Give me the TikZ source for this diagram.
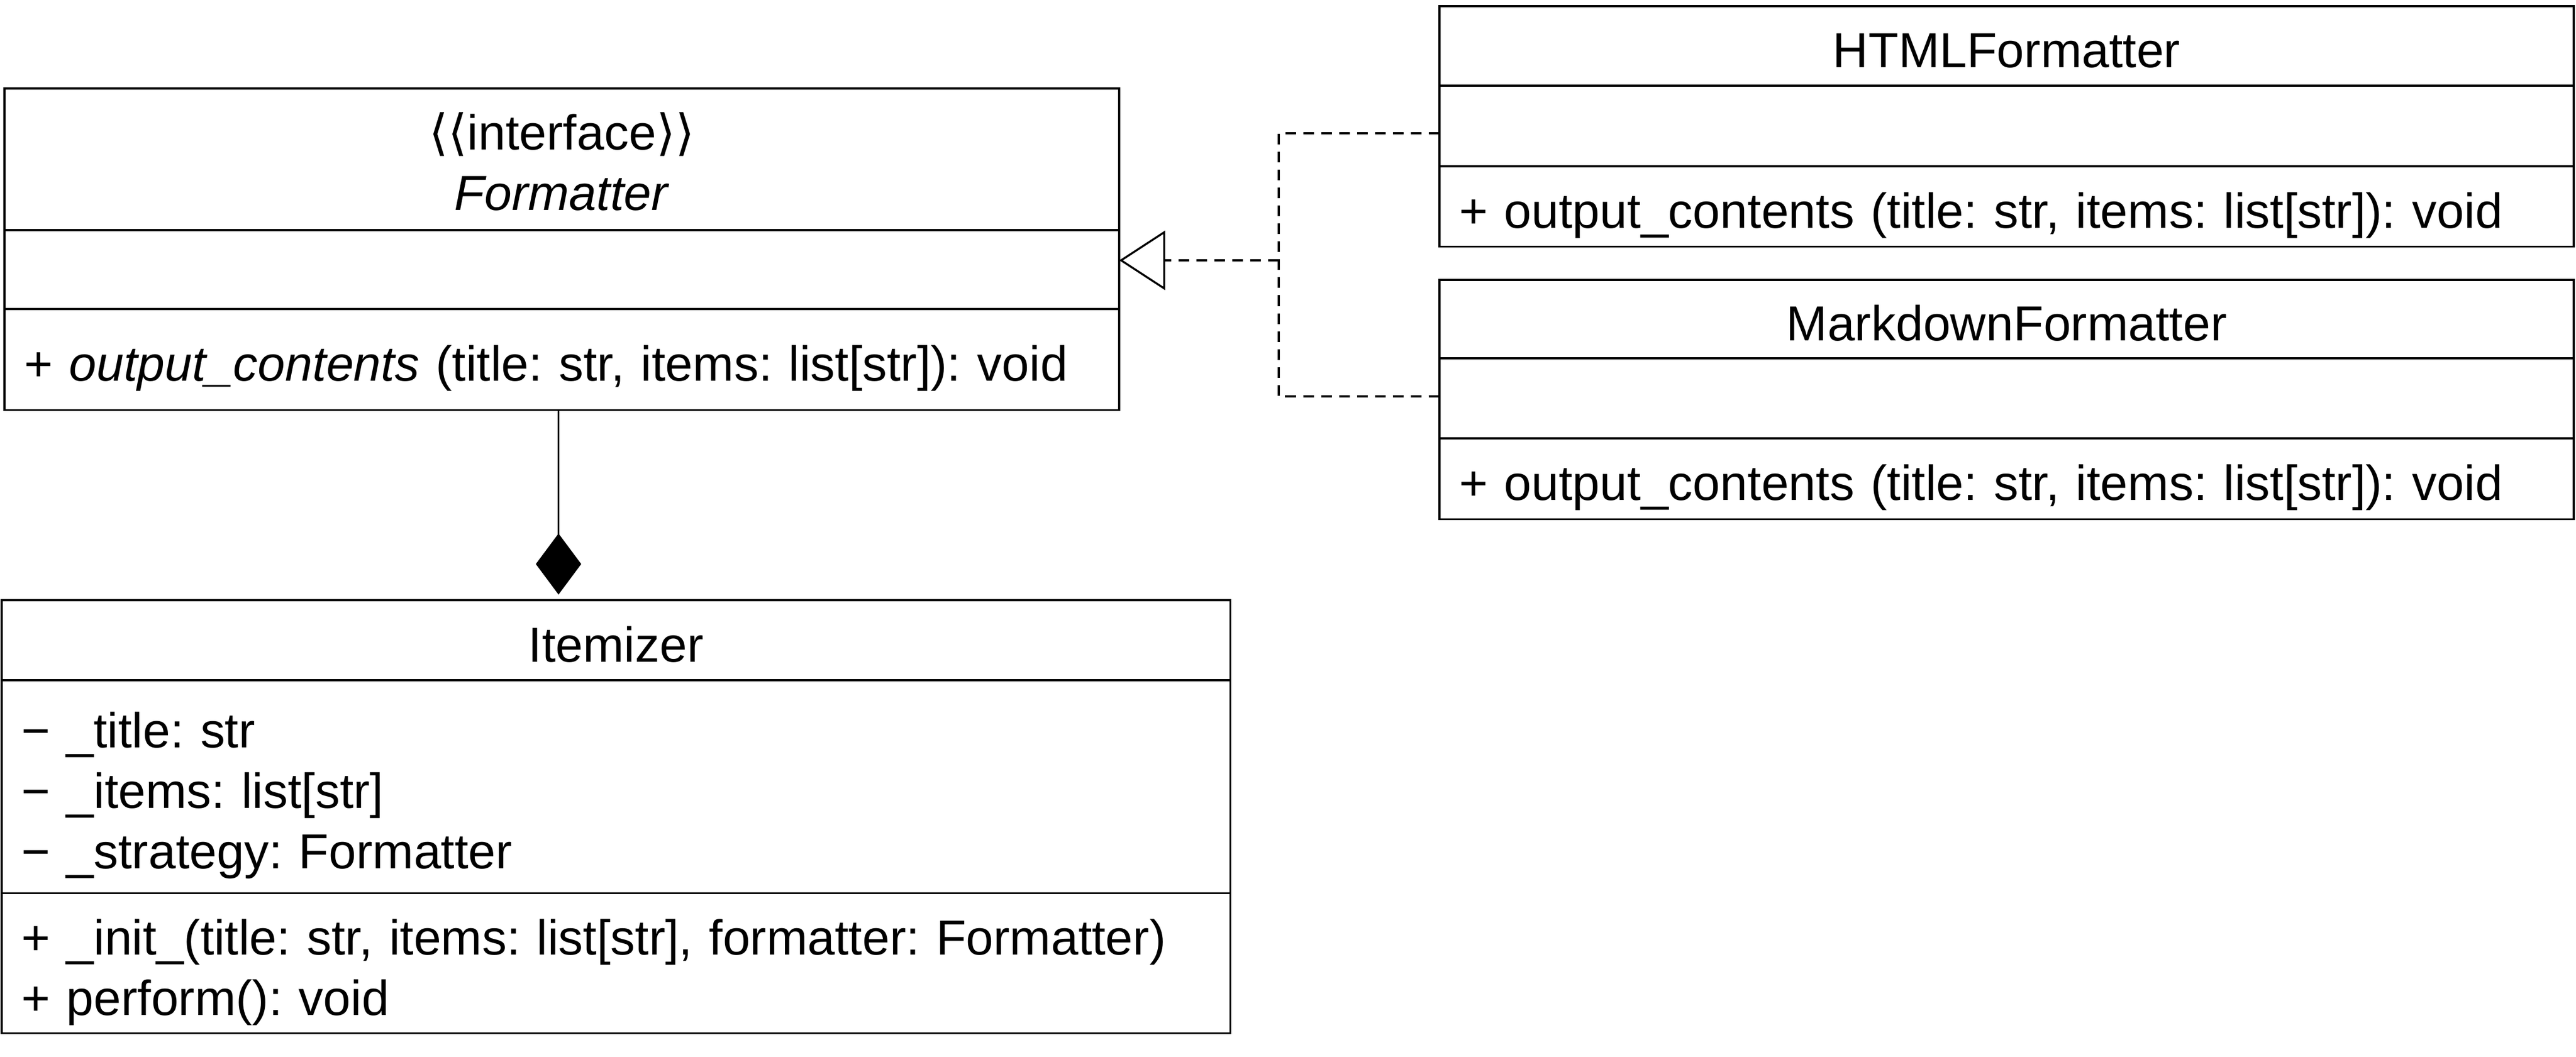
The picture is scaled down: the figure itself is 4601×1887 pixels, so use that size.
\documentclass[tikz,border=0pt]{standalone}
\usepackage{fontspec}
\setmainfont{Liberation Sans}
\newfontfamily\symfont{DejaVu Sans}
\usetikzlibrary{positioning,arrows.meta}
\frenchspacing

\tikzset{
  umlbox/.style={draw, rectangle, line width=1pt, outer sep=0pt, inner ysep=0pt, inner xsep=0.35cm,
    font=\fontsize{25}{30.7}\selectfont},
  padded/.style={execute at begin node={\rule{0pt}{28pt}},
    execute at end node={\rule[-6pt]{0pt}{6pt}}},
  ctitle/.style 2 args={umlbox, padded, minimum width=#1, minimum height=#2, align=center},
  cstereo/.style 2 args={umlbox, text width=#1, minimum height=#2, align=center,
    execute at begin node={\rule{0pt}{21.5pt}}},
  cbody/.style 2 args={umlbox, padded, text width=#1, minimum height=#2, align=left},
  realize/.style={line width=1pt, dash pattern=on 0.19cm off 0.13cm},
}

\begin{document}
\begin{tikzpicture}[x=0.01cm, y=-0.01cm]
  \useasboundingbox (0,0) rectangle (4601,1887);

  % interface
  \path (8,158) node[cstereo={19.2cm}{2.53cm}, anchor=north west] (fmtTitle)
    {{\symfont ⟨⟨}interface{\symfont ⟩⟩}\\\textit{Formatter}};
  \path node[cbody={19.2cm}{1.41cm}, below=0pt of fmtTitle] (fmtAttr) {};
  \path node[cbody={19.2cm}{1.8cm}, below=0pt of fmtAttr] (fmtOps)
    {+ \textit{output\_contents} (title: str, items: list[str]): void};

  % concrete formatters
  \path (2571,11) node[ctitle={20.25cm}{1.42cm}, anchor=north west] (htmlTitle) {HTMLFormatter};
  \path node[cbody={19.55cm}{1.44cm}, below=0pt of htmlTitle] (htmlAttr) {};
  \path node[cbody={19.55cm}{1.43cm}, below=0pt of htmlAttr] (htmlOps)
    {+ output\_contents (title: str, items: list[str]): void};

  \path (2571,500) node[ctitle={20.25cm}{1.4cm}, anchor=north west] (mdTitle) {MarkdownFormatter};
  \path node[cbody={19.55cm}{1.43cm}, below=0pt of mdTitle] (mdAttr) {};
  \path node[cbody={19.55cm}{1.44cm}, below=0pt of mdAttr] (mdOps)
    {+ output\_contents (title: str, items: list[str]): void};

  % context
  \path (3,1072) node[ctitle={21.93cm}{1.43cm}, anchor=north west] (itmTitle) {Itemizer};
  \path node[cbody={21.23cm}{3.8cm}, below=0pt of itmTitle] (itmAttr)
    {− \_title: str\\− \_items: list[str]\\− \_strategy: Formatter};
  \path node[cbody={21.23cm}{2.5cm}, below=0pt of itmAttr] (itmOps)
    {+ \_init\_(title: str, items: list[str], formatter: Formatter)\\+ perform(): void};

  % realization
  \coordinate (split) at (2284,465);
  \draw[realize] ([yshift=-0.13cm]htmlAttr.west) -| (split) |- ([yshift=0.035cm]mdAttr.west);
  \draw[realize, -{Triangle[open, length=0.82cm, width=1.06cm]}] (split) -- (split -| fmtAttr.east);

  % composition
  \draw[line width=1pt, -{Diamond[fill=black, length=1.09cm, width=0.81cm]}, shorten >=0.1cm]
    ([xshift=-0.06cm]fmtOps.south) -- ([xshift=-0.06cm]fmtOps.south |- itmTitle.north);
\end{tikzpicture}
\end{document}
